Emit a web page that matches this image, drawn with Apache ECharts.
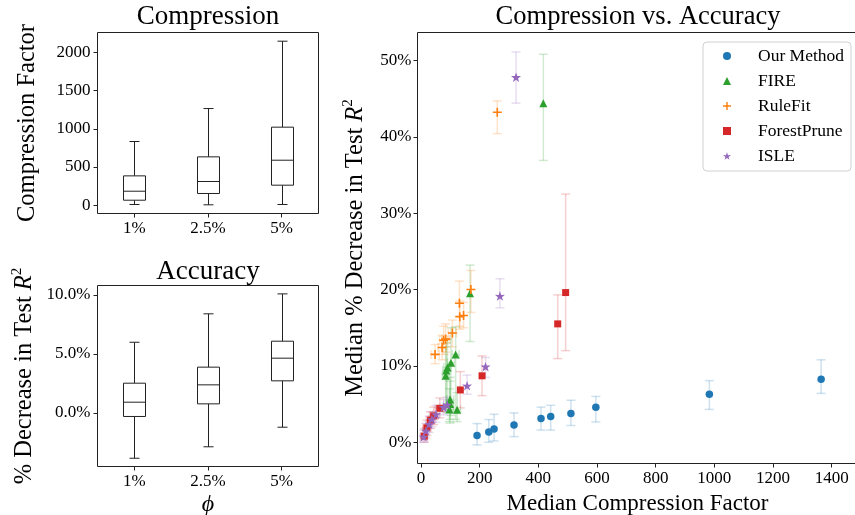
<!DOCTYPE html>
<html><head><meta charset="utf-8">
<script src="https://cdn.jsdelivr.net/npm/echarts@6/dist/echarts.min.js"></script>
<style>html,body{margin:0;padding:0;background:#fff}#c{width:855px;height:515px}</style>
</head><body><div id="c"></div>
<script>
// ---------------- data ----------------
const phiCats = ['1%', '2.5%', '5%'];
// [min, Q1, median, Q3, max]
const compressionBoxes = [
  [9, 65, 183, 384, 834],
  [5, 153, 310, 633, 1266],
  [9, 262, 589, 1022, 2148]
];
const accuracyBoxes = [
  [-3.85, -0.31, 0.90, 2.51, 5.98],
  [-2.88, 0.76, 2.37, 3.87, 8.39],
  [-1.22, 2.71, 4.63, 6.07, 10.08]
];
const compTicks = [0, 500, 1000, 1500, 2000];
const accTicks = [0, 5, 10];
const scatterXTicks = [0, 200, 400, 600, 800, 1000, 1200, 1400];
const scatterYTicks = [0, 10, 20, 30, 40, 50];

// [median compression, median % decrease, yLow, yHigh, xLow, xHigh]
const ourMethod = [
  [191, 0.88, -0.35, 2.45, 191, 191],
  [231, 1.35, 0.00, 2.97, 231, 231],
  [249, 1.74, 0.17, 3.66, 249, 249],
  [317, 2.26, 0.74, 3.84, 317, 317],
  [409, 3.10, 1.60, 4.60, 409, 409],
  [442, 3.36, 1.60, 4.84, 442, 442],
  [511, 3.76, 2.20, 5.50, 511, 511],
  [596, 4.58, 2.66, 6.00, 596, 596],
  [983, 6.28, 4.30, 8.07, 983, 983],
  [1364, 8.25, 6.40, 10.80, 1364, 1364]
];
const fire = [
  [84, 8.7, 4.0, 12.5, 72, 96],
  [86, 9.4, 4.5, 13.0, 74, 98],
  [90, 9.8, 5.0, 13.5, 78, 102],
  [102, 10.4, 3.5, 15.0, 90, 114],
  [118, 11.5, 3.0, 15.1, 106, 130],
  [99, 5.6, 3.0, 8.5, 87, 111],
  [99, 5.0, 2.5, 8.0, 87, 111],
  [97, 4.3, 2.7, 7.0, 85, 109],
  [123, 4.25, 2.7, 6.5, 111, 135],
  [167, 19.5, 13.2, 23.2, 167, 167],
  [417, 44.4, 36.9, 50.8, 417, 417]
];
const ruleFit = [
  [48, 11.5, 10.3, 12.8, 34, 62],
  [72, 12.4, 10.8, 14.0, 58, 86],
  [77, 13.35, 11.5, 15.2, 63, 91],
  [84, 13.5, 11.8, 15.5, 70, 98],
  [107, 14.3, 12.5, 16.0, 93, 121],
  [132, 16.45, 14.8, 18.5, 132, 132],
  [145, 16.6, 15.0, 18.3, 145, 145],
  [131, 18.2, 15.2, 21.1, 131, 131],
  [170, 20.0, 17.0, 22.5, 170, 170],
  [260, 43.2, 40.4, 44.7, 260, 260]
];
const forestPrune = [
  [11, 0.8, 0.0, 1.8, -1, 23],
  [20, 1.9, 0.9, 2.9, 6, 34],
  [32, 2.9, 1.8, 4.0, 18, 46],
  [43, 3.45, 2.3, 4.6, 29, 57],
  [64, 4.45, 3.2, 5.8, 48, 80],
  [134, 6.85, 4.5, 9.25, 134, 134],
  [208, 8.7, 6.1, 11.3, 208, 208],
  [466, 15.5, 10.96, 19.3, 466, 466],
  [493, 19.6, 12.0, 32.5, 493, 493]
];
const isle = [
  [9, 0.7, 0.0, 1.6, -3, 21],
  [17, 1.5, 0.6, 2.5, 5, 29],
  [28, 2.35, 1.3, 3.4, 16, 40],
  [37, 3.0, 2.0, 4.0, 25, 49],
  [51, 3.65, 2.6, 4.8, 39, 63],
  [77, 4.6, 3.6, 5.6, 65, 89],
  [89, 4.9, 3.9, 5.9, 77, 101],
  [157, 7.4, 6.3, 8.8, 157, 157],
  [220, 9.9, 8.5, 11.1, 220, 220],
  [269, 19.15, 17.6, 21.4, 269, 269],
  [324, 47.8, 44.4, 51.1, 324, 324]
];

// ---------------- styling ----------------
const FONT = "'Liberation Serif', 'DejaVu Serif', serif";
const methods = [
  { name: 'Our Method', data: ourMethod, color: '#1f77b4', err: 'rgba(31,119,180,0.22)', symbol: 'circle', size: 7.5 },
  { name: 'FIRE', data: fire, color: '#2ca02c', err: 'rgba(44,160,44,0.22)', symbol: 'triangle', size: 8 },
  { name: 'RuleFit', data: ruleFit, color: '#ff7f0e', err: 'rgba(255,127,14,0.22)', symbol: 'path://M4.1,0H5.9V4.1H10V5.9H5.9V10H4.1V5.9H0V4.1H4.1Z', size: 9 },
  { name: 'ForestPrune', data: forestPrune, color: '#d62728', err: 'rgba(214,39,40,0.22)', symbol: 'rect', size: 7 },
  { name: 'ISLE', data: isle, color: '#9467bd', err: 'rgba(148,103,189,0.22)', symbol: 'path://M50,0L61.8,35.1L97.6,34.5L69.1,56.7L79.4,90.5L50,70L20.6,90.5L30.9,56.7L2.4,34.5L38.2,35.1Z', size: 10 }
];

function boxRender(params, api) {
  const idx = api.value(0);
  const vmin = api.coord([idx, api.value(1)]);
  const q1 = api.coord([idx, api.value(2)]);
  const med = api.coord([idx, api.value(3)]);
  const q3 = api.coord([idx, api.value(4)]);
  const vmax = api.coord([idx, api.value(5)]);
  const cx = Math.round(vmin[0]) + 0.5;
  const hw = 11, cw = 5;
  const st = { stroke: '#222', lineWidth: 1, fill: 'none' };
  return {
    type: 'group',
    children: [
      { type: 'line', shape: { x1: cx, y1: vmin[1], x2: cx, y2: q1[1] }, style: st },
      { type: 'line', shape: { x1: cx, y1: q3[1], x2: cx, y2: vmax[1] }, style: st },
      { type: 'line', shape: { x1: cx - cw, y1: vmin[1], x2: cx + cw, y2: vmin[1] }, style: st },
      { type: 'line', shape: { x1: cx - cw, y1: vmax[1], x2: cx + cw, y2: vmax[1] }, style: st },
      { type: 'rect', shape: { x: cx - hw, y: q3[1], width: 2 * hw, height: q1[1] - q3[1] }, style: { stroke: '#222', lineWidth: 1, fill: '#fff' } },
      { type: 'line', shape: { x1: cx - hw, y1: med[1], x2: cx + hw, y2: med[1] }, style: st }
    ]
  };
}

function errRenderFactory(stroke) {
  return function (params, api) {
    const x = api.value(0), y = api.value(1);
    const ylo = api.value(2), yhi = api.value(3), xlo = api.value(4), xhi = api.value(5);
    const st = { stroke: stroke, lineWidth: 1.5 };
    const cap = 4.5;
    const a = api.coord([x, ylo]), b = api.coord([x, yhi]);
    const ch = [
      { type: 'line', shape: { x1: a[0], y1: a[1], x2: b[0], y2: b[1] }, style: st },
      { type: 'line', shape: { x1: a[0] - cap, y1: a[1], x2: a[0] + cap, y2: a[1] }, style: st },
      { type: 'line', shape: { x1: b[0] - cap, y1: b[1], x2: b[0] + cap, y2: b[1] }, style: st }
    ];
    if (xhi > xlo) {
      const l = api.coord([xlo, y]), r = api.coord([xhi, y]);
      ch.push({ type: 'line', shape: { x1: l[0], y1: l[1], x2: r[0], y2: r[1] }, style: st });
      ch.push({ type: 'line', shape: { x1: l[0], y1: l[1] - cap, x2: l[0], y2: l[1] + cap }, style: st });
      ch.push({ type: 'line', shape: { x1: r[0], y1: r[1] - cap, x2: r[0], y2: r[1] + cap }, style: st });
    }
    return { type: 'group', children: ch };
  };
}

const axisCommon = {
  axisLine: { show: false, onZero: false },
  axisTick: { show: true, length: 4, lineStyle: { color: '#222', width: 1 } },
  splitLine: { show: false },
  axisLabel: { color: '#000', fontSize: 17, fontFamily: FONT }
};
function nameStyle(size) {
  return {
    color: '#000', fontSize: size, fontFamily: FONT,
    rich: {
      t: { fontSize: size, fontFamily: FONT, lineHeight: size + 5 },
      i: { fontSize: size, fontFamily: FONT, fontStyle: 'italic', lineHeight: size + 5 },
      s: { fontSize: Math.round(size * 0.62), fontFamily: FONT, verticalAlign: 'top', lineHeight: 14 }
    }
  };
}
const gridBorder = { show: true, borderColor: '#222', borderWidth: 1, backgroundColor: 'transparent', containLabel: false, outerBoundsMode: 'none' };
const plain = v => String(v);

const series = [
  {
    type: 'custom', name: 'compBox', xAxisIndex: 0, yAxisIndex: 0,
    renderItem: boxRender, encode: { x: 0, y: [1, 2, 3, 4, 5] },
    data: compressionBoxes.map((b, i) => [i].concat(b))
  },
  {
    type: 'custom', name: 'accBox', xAxisIndex: 1, yAxisIndex: 1,
    renderItem: boxRender, encode: { x: 0, y: [1, 2, 3, 4, 5] },
    data: accuracyBoxes.map((b, i) => [i].concat(b))
  }
];
methods.forEach(m => {
  series.push({
    type: 'custom', name: m.name + ' err', xAxisIndex: 2, yAxisIndex: 2,
    renderItem: errRenderFactory(m.err), encode: { x: 0, y: 1 },
    data: m.data, silent: true
  });
  series.push({
    type: 'scatter', name: m.name, xAxisIndex: 2, yAxisIndex: 2,
    symbol: m.symbol, symbolSize: m.size, symbolKeepAspect: true,
    itemStyle: { color: m.color, opacity: 1 },
    data: m.data.map(d => [d[0], d[1]])
  });
});

const option = {
  animation: false,
  textStyle: { fontFamily: FONT },
  grid: [
    Object.assign({ left: 97.5, top: 32.5, width: 221, height: 181 }, gridBorder),
    Object.assign({ left: 97.5, top: 285.5, width: 221, height: 181 }, gridBorder),
    Object.assign({ left: 417.5, top: 32.5, width: 440, height: 431 }, gridBorder)
  ],
  xAxis: [
    Object.assign({}, axisCommon, {
      gridIndex: 0, type: 'category', data: phiCats, boundaryGap: true,
      axisTick: Object.assign({}, axisCommon.axisTick, { alignWithLabel: true }),
      axisLabel: Object.assign({}, axisCommon.axisLabel, { margin: 7 })
    }),
    Object.assign({}, axisCommon, {
      gridIndex: 1, type: 'category', data: phiCats, boundaryGap: true,
      axisTick: Object.assign({}, axisCommon.axisTick, { alignWithLabel: true }),
      axisLabel: Object.assign({}, axisCommon.axisLabel, { margin: 7 }),
      name: '{i|ϕ}', nameLocation: 'middle', nameGap: 24, nameTextStyle: nameStyle(24)
    }),
    Object.assign({}, axisCommon, {
      gridIndex: 2, type: 'value', min: -12, max: 1488,
      axisTick: Object.assign({}, axisCommon.axisTick, { customValues: scatterXTicks }),
      axisLabel: Object.assign({}, axisCommon.axisLabel, { customValues: scatterXTicks, margin: 7, formatter: plain }),
      name: 'Median Compression Factor', nameLocation: 'middle', nameGap: 28, nameTextStyle: nameStyle(23)
    })
  ],
  yAxis: [
    Object.assign({}, axisCommon, {
      gridIndex: 0, type: 'value', min: -109, max: 2262,
      axisTick: Object.assign({}, axisCommon.axisTick, { customValues: compTicks }),
      axisLabel: Object.assign({}, axisCommon.axisLabel, { customValues: compTicks, margin: 7, formatter: plain }),
      name: 'Compression Factor', nameLocation: 'middle', nameGap: 57, nameTextStyle: nameStyle(24.5)
    }),
    Object.assign({}, axisCommon, {
      gridIndex: 1, type: 'value', min: -4.55, max: 10.79,
      axisTick: Object.assign({}, axisCommon.axisTick, { customValues: accTicks }),
      axisLabel: Object.assign({}, axisCommon.axisLabel, { customValues: accTicks, margin: 7, formatter: v => v.toFixed(1) + '%' }),
      name: '{t|% Decrease in Test }{i|R}{s|2}', nameLocation: 'middle', nameGap: 58, nameTextStyle: nameStyle(24.5)
    }),
    Object.assign({}, axisCommon, {
      gridIndex: 2, type: 'value', min: -2.78, max: 53.65,
      axisTick: Object.assign({}, axisCommon.axisTick, { customValues: scatterYTicks }),
      axisLabel: Object.assign({}, axisCommon.axisLabel, { customValues: scatterYTicks, margin: 6, formatter: v => v + '%' }),
      name: '{t|Median % Decrease in Test }{i|R}{s|2}', nameLocation: 'middle', nameGap: 47, nameTextStyle: nameStyle(24.5)
    })
  ],
  legend: {
    orient: 'vertical', left: 703, top: 42,
    padding: [4, 7, 5, 20], itemGap: 5, itemWidth: 8, itemHeight: 8,
    borderColor: '#d0d0d0', borderWidth: 1, borderRadius: 4, backgroundColor: '#fff',
    data: methods.map(m => m.name),
    textStyle: { fontSize: 17.5, fontFamily: FONT, color: '#000', lineHeight: 20, padding: [0, 0, 0, 22] }
  },
  graphic: [
    { type: 'text', x: 208, y: 17, style: { text: 'Compression', font: '27px ' + FONT, fill: '#000', textAlign: 'center', textVerticalAlign: 'middle' } },
    { type: 'text', x: 208, y: 272, style: { text: 'Accuracy', font: '27px ' + FONT, fill: '#000', textAlign: 'center', textVerticalAlign: 'middle' } },
    { type: 'text', x: 638, y: 17, style: { text: 'Compression vs. Accuracy', font: '26.5px ' + FONT, fill: '#000', textAlign: 'center', textVerticalAlign: 'middle' } }
  ],
  series: series
};

const chart = echarts.init(document.getElementById('c'), null, { renderer: 'canvas' });
chart.setOption(option);
</script>
</body></html>
